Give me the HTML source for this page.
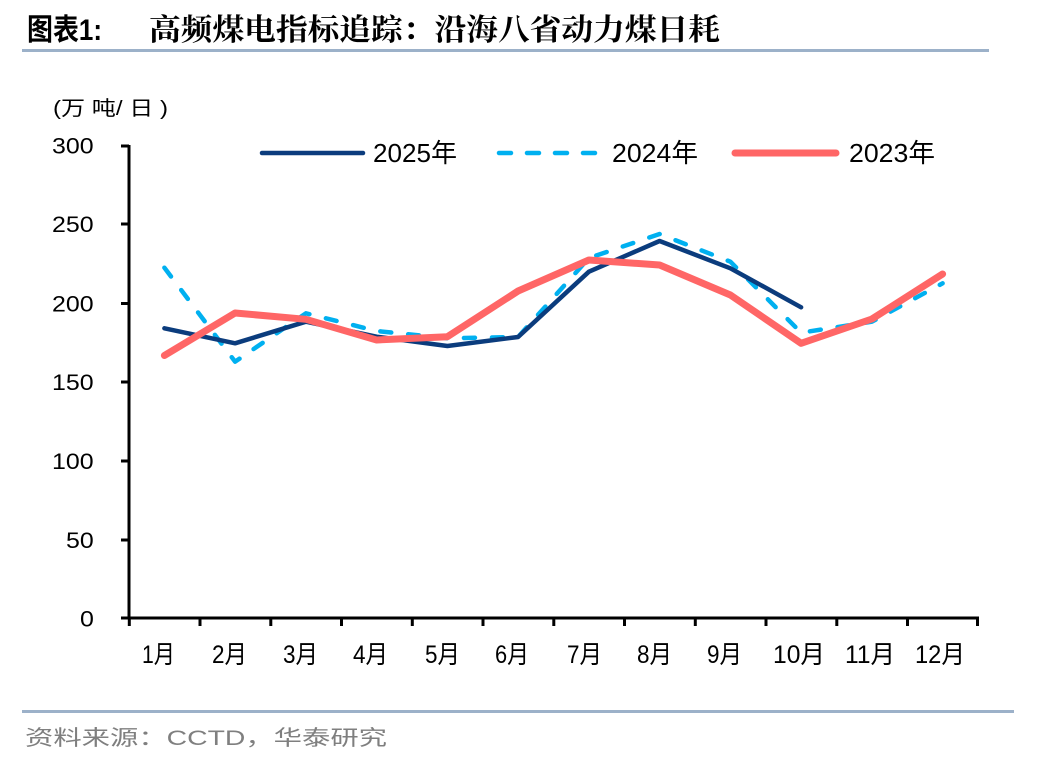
<!DOCTYPE html>
<html>
<head>
<meta charset="utf-8">
<style>
html,body{margin:0;padding:0;background:#fff;}
svg{display:block;}
text{font-family:"Liberation Sans","Noto Sans CJK SC",sans-serif;}
</style>
</head>
<body>
<svg width="1048" height="764" viewBox="0 0 1048 764" xmlns="http://www.w3.org/2000/svg">
  <!-- Title -->
  <text x="27" y="40" font-size="30" font-weight="bold" fill="#000" textLength="75" lengthAdjust="spacingAndGlyphs">图表1:</text>
  <text x="149" y="40" font-size="30" font-weight="bold" fill="#000" textLength="571" lengthAdjust="spacingAndGlyphs" style="font-family:'Noto Serif CJK SC','Noto Sans CJK SC',serif;">高频煤电指标追踪：沿海八省动力煤日耗</text>
  <rect x="22" y="49" width="967" height="3" fill="#9CB1C9"/>

  <!-- Y unit label -->
  <text x="53" y="115" font-size="20" fill="#000" textLength="115" lengthAdjust="spacingAndGlyphs">(万 吨/ 日 )</text>

  <!-- Y tick labels -->
  <g font-size="22" fill="#000">
    <text x="52" y="153.5" textLength="41.6" lengthAdjust="spacingAndGlyphs">300</text>
    <text x="52" y="232" textLength="41.6" lengthAdjust="spacingAndGlyphs">250</text>
    <text x="52" y="311.5" textLength="41.6" lengthAdjust="spacingAndGlyphs">200</text>
    <text x="52" y="390" textLength="41.6" lengthAdjust="spacingAndGlyphs">150</text>
    <text x="52" y="469" textLength="41.6" lengthAdjust="spacingAndGlyphs">100</text>
    <text x="66" y="548" textLength="27.7" lengthAdjust="spacingAndGlyphs">50</text>
    <text x="80" y="626.5" textLength="13.9" lengthAdjust="spacingAndGlyphs">0</text>
  </g>

  <!-- Axes -->
  <g stroke="#000" stroke-width="3" fill="none">
    <line x1="129" y1="145" x2="129" y2="619"/>
    <line x1="127.5" y1="618" x2="979" y2="618"/>
    <!-- y ticks -->
    <line x1="121" y1="146" x2="129" y2="146"/>
    <line x1="121" y1="224" x2="129" y2="224"/>
    <line x1="121" y1="303.5" x2="129" y2="303.5"/>
    <line x1="121" y1="382" x2="129" y2="382"/>
    <line x1="121" y1="461" x2="129" y2="461"/>
    <line x1="121" y1="540" x2="129" y2="540"/>
    <line x1="121" y1="618" x2="129" y2="618"/>
    <!-- x ticks -->
    <line x1="129.3" y1="618" x2="129.3" y2="626"/>
    <line x1="200" y1="618" x2="200" y2="626"/>
    <line x1="270.8" y1="618" x2="270.8" y2="626"/>
    <line x1="341.5" y1="618" x2="341.5" y2="626"/>
    <line x1="412.3" y1="618" x2="412.3" y2="626"/>
    <line x1="483" y1="618" x2="483" y2="626"/>
    <line x1="553.8" y1="618" x2="553.8" y2="626"/>
    <line x1="624.5" y1="618" x2="624.5" y2="626"/>
    <line x1="695.3" y1="618" x2="695.3" y2="626"/>
    <line x1="766" y1="618" x2="766" y2="626"/>
    <line x1="836.8" y1="618" x2="836.8" y2="626"/>
    <line x1="907.5" y1="618" x2="907.5" y2="626"/>
    <line x1="977.5" y1="618" x2="977.5" y2="626"/>
  </g>

  <!-- X labels -->
  <g font-size="25" fill="#000">
    <text x="142" y="663" textLength="33" lengthAdjust="spacingAndGlyphs">1月</text>
    <text x="212" y="663" textLength="35" lengthAdjust="spacingAndGlyphs">2月</text>
    <text x="283" y="663" textLength="35" lengthAdjust="spacingAndGlyphs">3月</text>
    <text x="353" y="663" textLength="35" lengthAdjust="spacingAndGlyphs">4月</text>
    <text x="425" y="663" textLength="35" lengthAdjust="spacingAndGlyphs">5月</text>
    <text x="495" y="663" textLength="34" lengthAdjust="spacingAndGlyphs">6月</text>
    <text x="567" y="663" textLength="35" lengthAdjust="spacingAndGlyphs">7月</text>
    <text x="637" y="663" textLength="35" lengthAdjust="spacingAndGlyphs">8月</text>
    <text x="707" y="663" textLength="35" lengthAdjust="spacingAndGlyphs">9月</text>
    <text x="773" y="663" textLength="52" lengthAdjust="spacingAndGlyphs">10月</text>
    <text x="845" y="663" textLength="50" lengthAdjust="spacingAndGlyphs">11月</text>
    <text x="915" y="663" textLength="50" lengthAdjust="spacingAndGlyphs">12月</text>
  </g>

  <!-- Series 2024 dashed -->
  <polyline fill="none" stroke="#00B0F0" stroke-width="4.5" stroke-linecap="round" stroke-linejoin="round" stroke-dasharray="11 17"
    points="164.4,267.7 235.1,361.7 305.9,313.3 376.6,331 447.4,338.3 518.1,337 588.9,258 659.6,234 730.4,261.7 801.1,332.7 871.9,321.7 942.6,283.3"/>
  <!-- Series 2025 navy -->
  <polyline fill="none" stroke="#0B3C7D" stroke-width="4.5" stroke-linecap="round" stroke-linejoin="round"
    points="164.4,328.3 235.1,343.3 305.9,321.7 376.6,336.7 447.4,346 518.1,337 588.9,271.7 659.6,241 730.4,268.3 801.1,307.3"/>
  <!-- Series 2023 red -->
  <polyline fill="none" stroke="#FF6666" stroke-width="7" stroke-linecap="round" stroke-linejoin="round"
    points="164.4,355.5 235.1,313 305.9,319.3 376.6,340 447.4,336.7 518.1,291 588.9,260 659.6,265 730.4,295 801.1,343.3 871.9,319 942.6,274"/>

  <!-- Legend -->
  <line x1="262" y1="153" x2="363" y2="153" stroke="#0B3C7D" stroke-width="4.5" stroke-linecap="round"/>
  <text x="373" y="162" font-size="26" fill="#000" textLength="84" lengthAdjust="spacingAndGlyphs">2025年</text>
  <line x1="499" y1="153" x2="597" y2="153" stroke="#00B0F0" stroke-width="4.5" stroke-linecap="round" stroke-dasharray="12 16"/>
  <text x="612" y="162" font-size="26" fill="#000" textLength="86" lengthAdjust="spacingAndGlyphs">2024年</text>
  <line x1="735" y1="153" x2="836" y2="153" stroke="#FF6666" stroke-width="7" stroke-linecap="round"/>
  <text x="849" y="162" font-size="26" fill="#000" textLength="86" lengthAdjust="spacingAndGlyphs">2023年</text>

  <!-- Bottom rule and source -->
  <rect x="22" y="710" width="992" height="3" fill="#9CB1C9"/>
  <text x="25" y="745" font-size="21" fill="#7F7F7F" textLength="362" lengthAdjust="spacingAndGlyphs">资料来源：CCTD，华泰研究</text>
</svg>
</body>
</html>
